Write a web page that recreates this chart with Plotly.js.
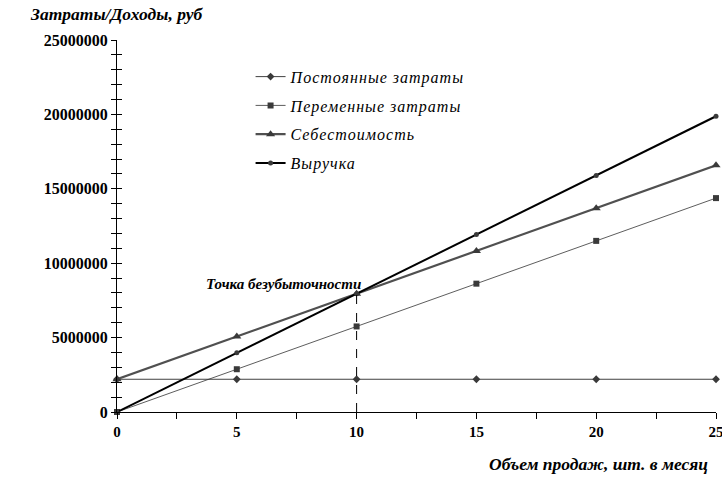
<!DOCTYPE html>
<html>
<head>
<meta charset="utf-8">
<script src="https://cdn.plot.ly/plotly-3.0.1.min.js"></script>
<style>
html,body{margin:0;padding:0;background:#fff;}
.legendtext{letter-spacing:1px;}
</style>
</head>
<body>
<div id="chart" style="width:722px;height:483px;"></div>
<script>
const volume = [0, 5, 10, 15, 20, 25];
const fixedCosts = [2200000, 2200000, 2200000, 2200000, 2200000, 2200000];
const variableCosts = [0, 2875000, 5750000, 8625000, 11500000, 14375000];
const totalCost = [2200000, 5075000, 7950000, 10825000, 13700000, 16575000];
const revenue = [0, 3975000, 7950000, 11925000, 15900000, 19875000];
const seriesNames = ['Постоянные затраты', 'Переменные затраты', 'Себестоимость', 'Выручка'];
const breakEvenIndex = 2;
const yTickVals = [0, 5000000, 10000000, 15000000, 20000000, 25000000];
const xTickVals = [0, 5, 10, 15, 20, 25];

const serif = '"Liberation Serif", "Times New Roman", serif';
const mk = '#3a3a3a';

const traces = [
  {x: volume, y: fixedCosts, name: seriesNames[0], mode: 'lines+markers', legendgroup: 'a',
   line: {color: '#404040', width: 1}, marker: {symbol: 'diamond', size: 6, color: mk}, cliponaxis: false},
  {x: volume, y: variableCosts, name: seriesNames[1], mode: 'lines+markers', legendgroup: 'b',
   line: {color: '#333', width: 0.8}, marker: {symbol: 'square', size: 6, color: mk}, cliponaxis: false},
  {x: volume, y: totalCost, name: seriesNames[2], mode: 'lines+markers', legendgroup: 'c',
   line: {color: '#505050', width: 2.2}, marker: {symbol: 'triangle-up', size: 8, color: mk}, cliponaxis: false},
  {x: volume, y: revenue, name: seriesNames[3], mode: 'lines+markers', legendgroup: 'd',
   line: {color: '#000', width: 2}, marker: {symbol: 'circle', size: 5, color: mk}, cliponaxis: false},
  {x: [], y: [], xaxis: 'x', yaxis: 'y2', showlegend: false, hoverinfo: 'skip'}
];

const bx = volume[breakEvenIndex];
const by = revenue[breakEvenIndex];

const layout = {
  width: 722, height: 483,
  margin: {l: 117, r: 6, t: 40, b: 71},
  paper_bgcolor: '#fff', plot_bgcolor: '#fff',
  showlegend: true,
  legend: {x: 0.223, y: 0.947, xanchor: 'left', yanchor: 'top', bgcolor: 'rgba(0,0,0,0)',
           font: {family: serif, size: 16, color: '#000', style: 'italic'},
           traceorder: 'grouped', tracegroupgap: 5},
  xaxis: {range: [0, 25], tickvals: xTickVals, showgrid: false, zeroline: false,
          showline: true, linecolor: '#000', linewidth: 1,
          ticks: 'outside', ticklen: 6, tickcolor: '#000', tickwidth: 1,
          ticklabeloverflow: 'allow',
          minor: {dtick: 2.5, ticks: 'outside', ticklen: 6, tickcolor: '#000', showgrid: false},
          tickfont: {family: serif, size: 15, color: '#000', weight: 'bold'}},
  yaxis: {range: [0, 25000000], tickvals: yTickVals, ticktext: yTickVals.map(v => String(v)),
          showgrid: false, zeroline: false,
          showline: true, linecolor: '#000', linewidth: 1,
          ticks: 'outside', ticklen: 5, tickcolor: '#000', tickwidth: 1,
          ticklabeloverflow: 'allow',
          minor: {dtick: 1000000, ticks: 'outside', ticklen: 5, tickcolor: '#000', showgrid: false},
          tickfont: {family: serif, size: 16, color: '#000', weight: 'bold'}},
  yaxis2: {range: [0, 25000000], overlaying: 'y', side: 'left', showgrid: false, zeroline: false,
           showline: false, showticklabels: false, tickvals: yTickVals,
           ticks: 'inside', ticklen: 5, tickcolor: '#000',
           minor: {dtick: 1000000, ticks: 'inside', ticklen: 5, tickcolor: '#000', showgrid: false}},
  shapes: [
    {type: 'line', xref: 'x', yref: 'y', x0: bx, x1: bx, y0: 0, y1: by,
     line: {color: '#000', width: 1, dash: 'dash'}}
  ],
  annotations: [
    {text: 'Затраты/Доходы, руб', xref: 'paper', yref: 'paper', x: -0.149, y: 1.07,
     xanchor: 'left', yanchor: 'middle', showarrow: false,
     font: {family: serif, size: 17.5, color: '#000', weight: 'bold', style: 'italic'}},
    {text: 'Объем продаж, шт. в месяц', xref: 'paper', yref: 'paper', x: 0.99, y: -0.14,
     xanchor: 'right', yanchor: 'middle', showarrow: false,
     font: {family: serif, size: 17.5, color: '#000', weight: 'bold', style: 'italic'}},
    {text: 'Точка безубыточности', xref: 'x', yref: 'y', x: bx, y: by,
     xanchor: 'right', yanchor: 'bottom', xshift: 6, yshift: 0, showarrow: false,
     font: {family: serif, size: 15, color: '#000', weight: 'bold', style: 'italic'}}
  ]
};

Plotly.newPlot('chart', traces, layout, {displayModeBar: false, staticPlot: true});
</script>
</body>
</html>
